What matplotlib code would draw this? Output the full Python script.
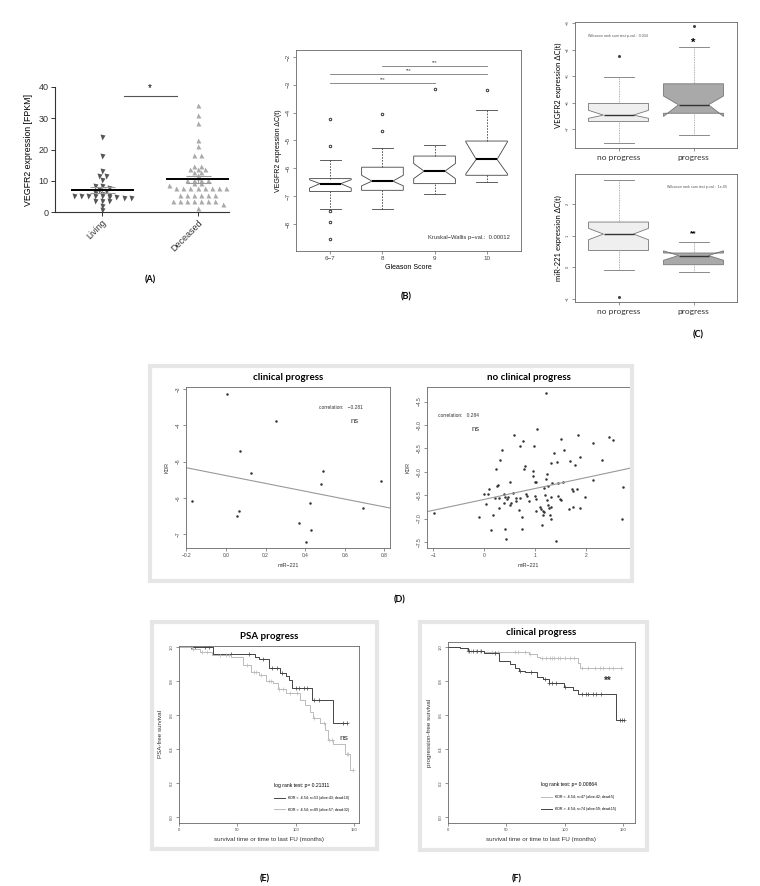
import numpy as np
import matplotlib
matplotlib.use("Agg")
import matplotlib.pyplot as plt
from matplotlib.patches import Rectangle

# ---------------- data ----------------
# (A) VEGFR2 FPKM, living vs deceased
a_living = [24, 17.8, 13, 11.6, 11.6, 10.3, 8.2, 8.2, 7.7, 7.2, 6.6, 6.2, 5.9, 5.6,
            5.0, 5.0, 5.0, 5.0, 5.0, 4.8, 4.8, 4.6, 4.6, 3.4, 3.4, 3.4, 1.8, 0.5]
a_deceased = [34.3, 31, 28.5, 23.1, 21, 18.3, 18.3, 14.6, 14.6, 13.8, 13.8, 13.8, 12.7, 12.7,
              12.0, 11.2, 10.3, 10.3, 10.3, 10.3, 9.3, 9.3, 8.5, 7.7, 7.7, 7.7, 7.7, 7.7,
              7.7, 7.7, 7.7, 5.5, 5.5, 5.5, 5.5, 5.5, 5.5, 3.4, 3.4, 3.4, 3.4, 3.4, 3.4,
              3.4, 2.7, 1.3]
a_groups = ["Living", "Deceased"]

# (B) VEGFR2 dC(t) by Gleason score
b_groups = ["6\u22127", "8", "9", "10"]
b_med = [-6.55, -6.46, -6.10, -5.68]
b_q1 = [-6.83, -6.79, -6.55, -6.25]
b_q3 = [-6.37, -5.96, -5.56, -5.02]
b_wlo = [-7.45, -7.46, -6.91, -6.49]
b_whi = [-5.71, -5.27, -5.17, -3.89]
b_cilo = [-6.71, -6.63, -6.37, -6.20]
b_cihi = [-6.41, -6.25, -5.83, -5.05]
b_fliers = [[-4.24, -5.21, -7.55, -7.92, -8.54], [-4.05, -4.66], [-3.14], [-3.17]]
b_sig = [(2, 4, -2.32), (1, 4, -2.62), (1, 3, -2.92)]

# (C) progress vs no progress
c_groups = ["no progress", "progress"]
c1_med = [-6.47, -6.08]
c1_q1 = [-6.71, -6.40]
c1_q3 = [-6.03, -5.29]
c1_wlo = [-7.51, -7.21]
c1_whi = [-5.04, -3.89]
c1_cilo = [-6.59, -6.52]
c1_cihi = [-6.29, -5.75]
c1_fliers = [[-4.24], [-3.11]]
c2_med = [1.05, 0.37]
c2_q1 = [0.53, 0.08]
c2_q3 = [1.43, 0.45]
c2_wlo = [-0.09, -0.16]
c2_whi = [2.76, 0.79]
c2_cilo = [0.87, 0.22]
c2_cihi = [1.23, 0.52]
c2_fliers = [[-0.95], []]

# (D) KDR vs miR-221
dl_x = [0.003, 0.253, 0.071, 0.125, 0.49, 0.48, 0.783, 0.424, 0.694, 0.068, 0.055,
        0.367, 0.428, 0.404, -0.17]
dl_y = [-3.12, -3.88, -4.71, -5.31, -5.27, -5.61, -5.54, -6.16, -6.28, -6.38, -6.51,
        -6.69, -6.90, -7.22, -6.09]
dr_x = [1.21, 1.04, 0.59, 1.85, 2.44, 2.52, 1.50, 0.76, 0.70, 0.98, 2.14, 0.35, 1.57,
        1.37, 0.31, 1.87, 2.31, 1.69, 1.79, 1.31, 1.42, 0.24, 0.80, 0.79, 0.96, 1.23,
        0.95, 1.22, 1.00, 1.02, 0.51, 2.14, 1.34, 1.44, 1.55, 0.10, 0.26, 0.28, 1.18,
        1.26, 1.73, 1.83, 1.75, 2.73, 0.00, 0.07, 0.39, 0.56, 0.82, 1.00, 1.20, 1.31,
        1.44, 0.21, 0.29, 0.44, 0.47, 0.41, 0.62, 0.71, 0.85, 0.88, 1.02, 1.23, 1.26,
        1.48, 1.51, 1.98, 0.39, 0.50, 0.52, 0.63, 0.04, 0.30, 0.68, 1.09, 1.11, 1.02,
        1.15, 1.17, 1.28, 1.31, 1.67, 1.75, 1.87, -0.98, -0.10, 0.17, 0.75, 1.15, 1.29,
        1.32, 2.71, 0.13, 0.41, 0.75, 1.14, 0.43, 1.41]
dr_y = [-4.32, -5.09, -5.21, -5.22, -5.25, -5.32, -5.30, -5.35, -5.46, -5.44, -5.38,
        -5.54, -5.54, -5.61, -5.75, -5.68, -5.74, -5.78, -5.85, -5.82, -5.80, -5.95,
        -5.87, -5.94, -5.98, -6.05, -6.09, -6.16, -6.21, -6.23, -6.21, -6.17, -6.25,
        -6.25, -6.23, -6.37, -6.30, -6.29, -6.34, -6.30, -6.37, -6.37, -6.42, -6.32,
        -6.48, -6.48, -6.48, -6.46, -6.47, -6.51, -6.50, -6.53, -6.52, -6.57, -6.57,
        -6.59, -6.55, -6.53, -6.56, -6.57, -6.52, -6.62, -6.59, -6.60, -6.71, -6.59,
        -6.60, -6.53, -6.66, -6.72, -6.66, -6.63, -6.70, -6.77, -6.82, -6.75, -6.79,
        -6.83, -6.85, -6.87, -6.78, -6.75, -6.79, -6.75, -6.78, -6.89, -6.97, -6.92,
        -6.96, -6.92, -6.92, -7.02, -7.02, -7.24, -7.22, -7.22, -7.14, -7.44, -7.49]

# (E) PSA progress, Kaplan-Meier
e_lo_t = [0, 29, 65, 69, 77, 87, 92, 94, 97, 114, 132]
e_lo_s = [1.0, 0.96, 0.943, 0.929, 0.876, 0.846, 0.83, 0.807, 0.758, 0.689, 0.551]
e_lo_end = 144
e_lo_cens = [10, 14, 22, 26, 45, 60, 72, 80, 84, 88, 100, 103, 107, 110, 116, 120, 141, 144]
e_hi_t = [0, 11, 18, 28, 45, 55, 62, 69, 75, 81, 85, 92, 104, 108, 112, 115, 121, 125,
          128, 132, 142, 147]
e_hi_s = [1.0, 0.99, 0.974, 0.955, 0.941, 0.896, 0.856, 0.837, 0.803, 0.791, 0.752,
          0.728, 0.689, 0.659, 0.62, 0.581, 0.551, 0.512, 0.453, 0.429, 0.37, 0.276]
e_hi_end = 149.5
e_hi_cens = [12, 20, 24, 35, 40, 43, 58, 64, 66, 70, 77, 79, 86, 89, 95, 101, 116, 124,
             129, 131, 144, 145, 149.5]
e_labels = ["KDR < -6.54; n=53 (alive:43; dead:10)", "KDR > -6.54; n=89 (alive:57; dead:32)"]

# (F) clinical progress, Kaplan-Meier
f_hi_t = [0, 10, 16, 31, 69, 76, 79, 111, 113]
f_hi_s = [1.0, 0.994, 0.98, 0.974, 0.96, 0.945, 0.935, 0.909, 0.876]
f_hi_end = 149
f_hi_cens = [17, 20, 24, 27, 38, 43, 57, 60, 66, 70, 80, 84, 87, 89, 91, 94, 96, 100,
             104, 108, 115, 120, 126, 130, 133, 138, 141, 148]
f_lo_t = [0, 10, 17, 31, 44, 53, 57, 61, 66, 76, 81, 86, 99, 107, 111, 144]
f_lo_s = [1.0, 0.994, 0.98, 0.965, 0.921, 0.902, 0.876, 0.862, 0.852, 0.827, 0.811,
          0.791, 0.768, 0.748, 0.722, 0.571]
f_lo_end = 151
f_lo_cens = [18, 21, 25, 28, 40, 62, 71, 83, 86, 89, 92, 100, 115, 118, 120, 124, 127,
             131, 147, 149, 151]
f_labels = ["KDR < -6.54; n=47 (alive:42; dead:5)", "KDR > -6.54; n=74 (alive:59; dead:15)"]

# ---------------- figure ----------------
W, H = 760, 886
plt.rcParams['font.family'] = ['Liberation Sans', 'DejaVu Sans']
fig = plt.figure(figsize=(W / 100, H / 100), dpi=100)


def box(x0, y0, x1, y1):
    return fig.add_axes([x0 / W, 1 - y1 / H, (x1 - x0) / W, (y1 - y0) / H])


def ftext(x, y, s, **kw):
    fig.text(x / W, 1 - y / H, s, **kw)


def rstyle(ax, fs=3.5, col="#666"):
    for s in ax.spines.values():
        s.set_color(col)
        s.set_linewidth(0.6)
    ax.tick_params(length=2, width=0.5, colors=col, labelsize=fs, pad=1.5, labelcolor="#444")


def swarm(vals, binw, step):
    vals = np.asarray(vals)
    offs = np.zeros(len(vals))
    bins = np.round(vals / binw).astype(int)
    for b in np.unique(bins):
        idx = np.where(bins == b)[0]
        offs[idx] = (np.arange(len(idx)) - (len(idx) - 1) / 2) * step
    return offs


def stats(med, q1, q3, wlo, whi, cilo, cihi, fl):
    out = []
    for i in range(len(med)):
        out.append(dict(med=med[i], q1=q1[i], q3=q3[i], whislo=wlo[i], whishi=whi[i],
                        cilo=cilo[i], cihi=cihi[i], fliers=fl[i]))
    return out


def frame(x0, y0, x1, y1):
    fig.patches.append(Rectangle((x0 / W, 1 - y1 / H), (x1 - x0) / W, (y1 - y0) / H,
                                 transform=fig.transFigure, fill=False,
                                 edgecolor="#e6e6e6", linewidth=3, zorder=0))


lab_font = dict(family=["Lato", "DejaVu Sans"], fontweight="bold", fontsize=6.5)

# ---- (A) ----
axA = box(55, 87, 229, 212)
for i, vals in enumerate([a_living, a_deceased]):
    xs = i + swarm(vals, 1.0, 0.075)
    axA.plot(xs, vals, linestyle="none", marker="v" if i == 0 else "^", ms=3.6,
             color="#555555" if i == 0 else "#aaaaaa", mec="none")
    m = np.mean(vals)
    sem = np.std(vals, ddof=1) / np.sqrt(len(vals))
    axA.errorbar([i], [m], yerr=[sem], color="#999999", capsize=9, elinewidth=0.8,
                 capthick=0.8, zorder=3)
    axA.plot([i - 0.32, i + 0.32], [m, m], color="black", lw=1.4, zorder=4)
axA.plot([0.23, 0.78], [37.1, 37.1], color="#555555", lw=0.8)
axA.text(0.5, 38.2, "*", ha="center", va="bottom", fontsize=7)
axA.set_xlim(-0.495, 1.33)
axA.set_ylim(0, 40)
axA.set_yticks([0, 10, 20, 30, 40])
axA.set_xticks([0, 1])
axA.set_xticklabels(a_groups, rotation=45, ha="right", rotation_mode="anchor")
axA.spines["top"].set_visible(False)
axA.spines["right"].set_visible(False)
for s in ["left", "bottom"]:
    axA.spines[s].set_linewidth(0.8)
    axA.spines[s].set_color("#333")
axA.tick_params(labelsize=6.5, length=3, width=0.7, pad=1.5, colors="#333")
axA.set_ylabel("VEGFR2 expression [FPKM]", fontsize=6.3, labelpad=4)
ftext(150, 280, "(A)", ha="center", va="center", **lab_font)

# ---- (B) ----
axB = box(296, 50, 521, 251)
axB.bxp(stats(b_med, b_q1, b_q3, b_wlo, b_whi, b_cilo, b_cihi, b_fliers),
        positions=[1, 2, 3, 4], widths=0.8, shownotches=True, patch_artist=True,
        boxprops=dict(facecolor="white", edgecolor="#444", linewidth=0.6),
        whiskerprops=dict(color="#444", linewidth=0.6, linestyle=(0, (2, 1.5))),
        capprops=dict(color="#444", linewidth=0.6),
        medianprops=dict(color="black", linewidth=1.5),
        flierprops=dict(marker="o", ms=1.8, mfc="none", mec="#333", mew=0.7))
for g0, g1, yv in b_sig:
    axB.plot([g0, g1], [yv, yv], color="#777", lw=0.6)
    axB.text((g0 + g1) / 2, yv + 0.03, "***", ha="center", va="bottom", fontsize=3.5,
             color="#444")
axB.text(4.45, -8.5, "Kruskal\u2212Wallis p\u2212val.:  0.00012", ha="right", va="center",
         fontsize=4.2, color="#333")
axB.set_xlim(0.34, 4.66)
axB.set_ylim(-8.97, -1.75)
axB.set_xticks([1, 2, 3, 4])
axB.set_xticklabels(b_groups)
axB.set_yticks([-2, -3, -4, -5, -6, -7, -8])
rstyle(axB, fs=4.5)
plt.setp(axB.get_yticklabels(), rotation=90, va="center")
axB.set_xlabel("Gleason Score", fontsize=5, labelpad=2)
axB.set_ylabel("VEGFR2 expression \u0394C(t)", fontsize=5, labelpad=3)
ftext(406, 297, "(B)", ha="center", va="center", **lab_font)

# ---- (C) ----
c_font = dict(family=["Lato", "DejaVu Sans"])
for k, (yy, st, ticks, ylim, ylab, ptxt) in enumerate([
        ((22, 148), stats(c1_med, c1_q1, c1_q3, c1_wlo, c1_whi, c1_cilo, c1_cihi, c1_fliers),
         [-3, -4, -5, -6, -7], (-7.71, -2.96), "VEGFR2 expression \u0394C(t)",
         "Wilcoxon rank sum test p-val.:  0.034"),
        ((174, 302), stats(c2_med, c2_q1, c2_q3, c2_wlo, c2_whi, c2_cilo, c2_cihi, c2_fliers),
         [2, 1, 0, -1], (-1.1, 2.95), "miR-221 expression \u0394C(t)",
         "Wilcoxon rank sum test p-val.:  1e-05")]):
    ax = box(575, yy[0], 737, yy[1])
    bp = ax.bxp(st, positions=[1, 2], widths=0.8, shownotches=True, patch_artist=True,
                boxprops=dict(edgecolor="#777", linewidth=0.6),
                whiskerprops=dict(color="#999", linewidth=0.6, linestyle=(0, (1, 1))),
                capprops=dict(color="#777", linewidth=0.6),
                medianprops=dict(color="#333", linewidth=1.0),
                flierprops=dict(marker="o", ms=1.2, mfc="#444", mec="#444"))
    bp["boxes"][0].set_facecolor("#efefef")
    bp["boxes"][1].set_facecolor("#a9a9a9")
    ax.set_xlim(0.42, 2.58)
    ax.set_ylim(*ylim)
    ax.set_xticks([1, 2])
    ax.set_xticklabels(c_groups)
    ax.set_yticks(ticks)
    rstyle(ax, fs=3)
    ax.tick_params(axis="x", labelsize=6, labelcolor="#333", pad=2.5)
    for t in ax.get_xticklabels():
        t.set_family(["Lato", "DejaVu Sans"])
    plt.setp(ax.get_yticklabels(), rotation=90, va="center")
    ax.set_ylabel(ylab, fontsize=5.5, labelpad=3, **c_font)
    if k == 0:
        ax.text(0.6, -3.5, ptxt, fontsize=2.6, color="#555", va="center")
        ax.text(2, -3.75, "*", fontsize=8, fontweight="bold", ha="center", va="center")
    else:
        ax.text(2.45, 2.55, ptxt, fontsize=2.6, color="#555", va="center", ha="right")
        ax.text(2, 1.05, "**", fontsize=6, fontweight="bold", ha="center", va="center")
ftext(698, 335, "(C)", ha="center", va="center", **lab_font)

# ---- (D) ----
frame(150, 366, 632, 581)
title_font = dict(family=["Lato", "DejaVu Sans"], fontweight="bold", fontsize=7)
for xs, ys, rect, xlim, ylim, yt, xt, title, corr, cpos, npos in [
        (dl_x, dl_y, (186, 387, 390, 548), (-0.202, 0.828), (-7.39, -2.94),
         [-3, -4, -5, -6, -7], [-0.2, 0.0, 0.2, 0.4, 0.6, 0.8], "clinical progress",
         "correlation:   \u22120.281", (0.47, -3.5), (0.63, -3.9)),
        (dr_x, dr_y, (427, 387, 630, 548), (-1.12, 2.86), (-7.63, -4.19),
         [-4.5, -5.0, -5.5, -6.0, -6.5, -7.0, -7.5], [-1, 0, 1, 2], "no clinical progress",
         "correlation:   0.284", (-0.9, -4.8), (-0.25, -5.1))]:
    ax = box(*rect)
    ax.plot(xs, ys, linestyle="none", marker="o", ms=1.8, color="#333", mec="none")
    k, c = np.polyfit(xs, ys, 1)
    xx = np.array(xlim)
    ax.plot(xx, k * xx + c, color="#999", lw=0.8)
    ax.set_xlim(*xlim)
    ax.set_ylim(*ylim)
    ax.set_yticks(yt)
    ax.set_xticks(xt)
    rstyle(ax, fs=3.5)
    plt.setp(ax.get_yticklabels(), rotation=90, va="center")
    ax.set_xlabel("miR\u2212221", fontsize=3.8, labelpad=4, color="#333")
    ax.set_ylabel("KDR", fontsize=3.8, labelpad=5, color="#333")
    ax.set_title(title, pad=5, **title_font)
    ax.text(cpos[0], cpos[1], corr, fontsize=3.5, color="#333", va="center")
    ax.text(npos[0], npos[1], "ns", fontsize=5.5, color="#333", va="center")
ftext(400, 600, "(D)", ha="center", va="center", **lab_font)


# ---- (E) and (F) ----
def km(ax, t, s, end, cens, color, label):
    tt = list(t) + [end]
    ss = list(s) + [s[-1]]
    ax.step(tt, ss, where="post", color=color, lw=0.7, label=label)
    idx = np.searchsorted(np.array(t), np.array(cens), side="right") - 1
    ax.plot(cens, np.array(s)[idx], linestyle="none", marker="+", ms=2.2, mew=0.5,
            color=color)


for rect, fr, xlim, ylim, curves, labels, title, ylab, ptxt, star, spos, lx in [
        ((179, 646, 359, 823), (152, 622, 377, 849), (0, 154.3), (-0.037, 1.008),
         [(e_lo_t, e_lo_s, e_lo_end, e_lo_cens, "#444444"),
          (e_hi_t, e_hi_s, e_hi_end, e_hi_cens, "#bbbbbb")],
         e_labels, "PSA progress", "PSA-free survival", "log rank test: p= 0.21311",
         "ns", (141, 0.46), 0.52),
        ((448, 642, 635, 823), (420, 622, 647, 850), (0, 160), (-0.037, 1.031),
         [(f_hi_t, f_hi_s, f_hi_end, f_hi_cens, "#bbbbbb"),
          (f_lo_t, f_lo_s, f_lo_end, f_lo_cens, "#444444")],
         f_labels, "clinical progress", "progression-free survival",
         "log rank test: p= 0.00864", "**", (137, 0.80), 0.49)]:
    frame(*fr)
    ax = box(*rect)
    for (t, s, end, cens, col), lab in zip(curves, labels):
        km(ax, t, s, end, cens, col, lab)
    ax.set_xlim(*xlim)
    ax.set_ylim(*ylim)
    ax.set_yticks([0.0, 0.2, 0.4, 0.6, 0.8, 1.0])
    ax.set_xticks([0, 50, 100, 150])
    rstyle(ax, fs=3)
    plt.setp(ax.get_yticklabels(), rotation=90, va="center")
    ax.set_xlabel("survival time or time to last FU (months)", fontsize=4.5, labelpad=4,
                  color="#333")
    ax.set_ylabel(ylab, fontsize=4.5, labelpad=5, color="#333")
    ax.set_title(title, pad=5, **title_font)
    ax.text(spos[0], spos[1], star, fontsize=6 if star == "ns" else 7, fontweight="normal"
            if star == "ns" else "bold", ha="center", va="center", color="#333")
    leg = ax.legend(title=ptxt, loc="upper left", bbox_to_anchor=(lx, 0.235), frameon=False,
                    fontsize=2.6, title_fontsize=3.6, handlelength=3, labelspacing=2.2,
                    handletextpad=0.8, borderaxespad=0)
    leg._legend_box.align = "left"
ftext(265, 879, "(E)", ha="center", va="center", **lab_font)
ftext(517, 879, "(F)", ha="center", va="center", **lab_font)

fig.savefig("out.png", dpi=100)
